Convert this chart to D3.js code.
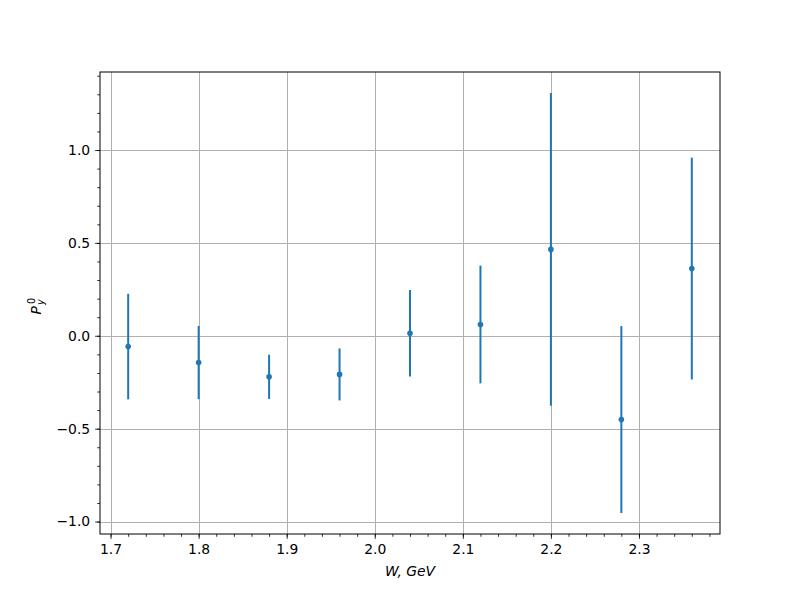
<!DOCTYPE html>
<html>
<head>
<meta charset="utf-8">
<script src="https://cdn.jsdelivr.net/npm/d3@7/dist/d3.min.js"></script>
<style>
body { margin: 0; background: #fff; }
svg { display: block; }
text { font-family: "DejaVu Sans", sans-serif; }
</style>
</head>
<body>
<svg id="chart" width="800" height="600"></svg>
<script>
const W_values = [1.72, 1.80, 1.88, 1.96, 2.04, 2.12, 2.20, 2.28, 2.36];
const Py_values = [-0.058, -0.144, -0.221, -0.208, 0.014, 0.061, 0.465, -0.451, 0.362];
const Py_errors = [0.284, 0.197, 0.119, 0.140, 0.233, 0.317, 0.842, 0.503, 0.597];
const xTicks = [1.7, 1.8, 1.9, 2.0, 2.1, 2.2, 2.3];
const yTicks = [-1.0, -0.5, 0.0, 0.5, 1.0];

const svg = d3.select("#chart");
const margin = {left: 100, right: 80, top: 72, bottom: 66};
const width = 800 - margin.left - margin.right;
const height = 600 - margin.top - margin.bottom;
const color = "#1f77b4";

const xmin = d3.min(W_values), xmax = d3.max(W_values);
const xpad = (xmax - xmin) * 0.05;
const lo = d3.min(Py_values.map((v, i) => v - Py_errors[i]));
const hi = d3.max(Py_values.map((v, i) => v + Py_errors[i]));
const ypad = (hi - lo) * 0.05;

const x = d3.scaleLinear().domain([xmin - xpad, xmax + xpad]).range([margin.left, margin.left + width]);
const y = d3.scaleLinear().domain([lo - ypad, hi + ypad]).range([margin.top + height, margin.top]);

const fmt = d => d3.format(".1f")(d).replace("-", "\u2212");

const grid = svg.append("g");
grid.selectAll(".gx").data(xTicks).enter().append("line")
  .attr("x1", d => Math.round(x(d)) + 0.5).attr("x2", d => Math.round(x(d)) + 0.5)
  .attr("y1", margin.top).attr("y2", margin.top + height)
  .attr("stroke", "#b0b0b0").attr("stroke-width", 1);
grid.selectAll(".gy").data(yTicks).enter().append("line")
  .attr("y1", d => Math.round(y(d)) + 0.5).attr("y2", d => Math.round(y(d)) + 0.5)
  .attr("x1", margin.left).attr("x2", margin.left + width)
  .attr("stroke", "#b0b0b0").attr("stroke-width", 1);

svg.append("g").selectAll("line").data(W_values).enter().append("line")
  .attr("x1", d => x(d)).attr("x2", d => x(d))
  .attr("y1", (d, i) => y(Py_values[i] - Py_errors[i]))
  .attr("y2", (d, i) => y(Py_values[i] + Py_errors[i]))
  .attr("stroke", color).attr("stroke-width", 2);

svg.append("g").selectAll("circle").data(W_values).enter().append("circle")
  .attr("cx", d => x(d)).attr("cy", (d, i) => y(Py_values[i]))
  .attr("r", 2.8).attr("fill", color);

const minorX = d3.range(1.70, 2.40, 0.02).filter(v => x(v) >= margin.left - 0.1 && x(v) <= margin.left + width + 0.1);
const minorY = d3.range(-1.0, 1.45, 0.1).filter(v => y(v) <= margin.top + height && y(v) >= margin.top);

const xAxis = svg.append("g").attr("transform", `translate(0,${margin.top + height})`)
  .call(d3.axisBottom(x).tickValues(xTicks).tickFormat(fmt).tickSize(4.9).tickPadding(4.9));
const xMinor = svg.append("g").attr("transform", `translate(0,${margin.top + height})`)
  .call(d3.axisBottom(x).tickValues(minorX).tickFormat("").tickSize(2.8));
const yAxis = svg.append("g").attr("transform", `translate(${margin.left},0)`)
  .call(d3.axisLeft(y).tickValues(yTicks).tickFormat(fmt).tickSize(4.9).tickPadding(4.9));
const yMinor = svg.append("g").attr("transform", `translate(${margin.left},0)`)
  .call(d3.axisLeft(y).tickValues(minorY).tickFormat("").tickSize(2.8));

[xAxis, xMinor, yAxis, yMinor].forEach(g => {
  g.select(".domain").remove();
  g.selectAll("line").attr("stroke", "#000").attr("stroke-width", 0.8);
  g.selectAll("text").attr("font-size", "13.9px").attr("fill", "#000")
    .attr("font-family", "DejaVu Sans, sans-serif");
});

svg.append("rect").attr("x", margin.left).attr("y", margin.top)
  .attr("width", width).attr("height", height)
  .attr("fill", "none").attr("stroke", "#000").attr("stroke-width", 1);

svg.append("text").attr("x", margin.left + width / 2).attr("y", 576)
  .attr("text-anchor", "middle").attr("font-size", "13.9px").attr("font-style", "italic")
  .text("W, GeV");

const yl = svg.append("g").attr("transform", `translate(41, ${margin.top + height / 2}) rotate(-90)`);
yl.append("text").attr("x", -3).attr("y", 0).attr("font-size", "13.9px").attr("font-style", "italic").attr("text-anchor", "end").text("P");
yl.append("text").attr("x", -2).attr("y", 3).attr("font-size", "9.7px").attr("font-style", "italic").text("y");
yl.append("text").attr("x", -1).attr("y", -6).attr("font-size", "9.7px").text("0");
</script>
</body>
</html>
